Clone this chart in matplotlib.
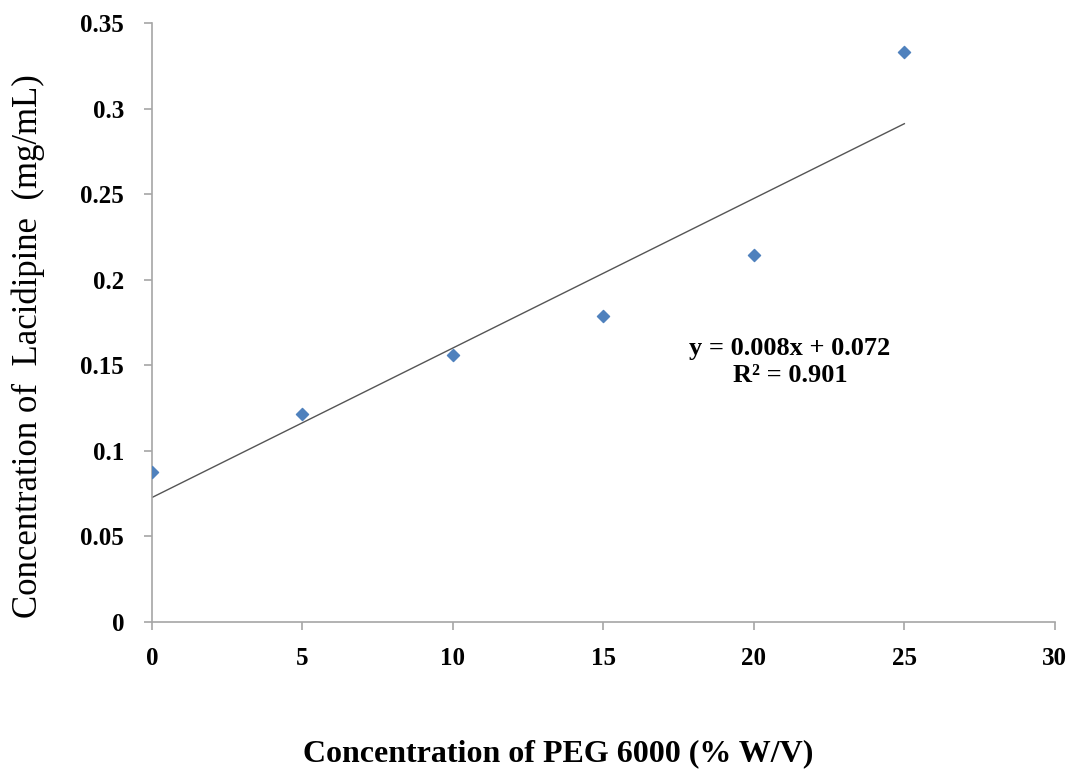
import matplotlib
matplotlib.use("Agg")
import matplotlib.pyplot as plt
import numpy as np

peg = [0, 5, 10, 15, 20, 25]
lacidipine = [0.0876, 0.1215, 0.156, 0.179, 0.2145, 0.333]
xticks = [0, 5, 10, 15, 20, 25, 30]
yticks = [0, 0.05, 0.1, 0.15, 0.2, 0.25, 0.3, 0.35]
ytick_labels = ["0", "0.05", "0.1", "0.15", "0.2", "0.25", "0.3", "0.35"]

plt.rcParams['font.family'] = ['Liberation Serif', 'DejaVu Serif']

fig = plt.figure(figsize=(10.71, 7.76), dpi=100)
ax = fig.add_axes([0.1419, 0.1985, 0.843, 0.7719])

ax.scatter(peg, lacidipine, marker='D', s=38, color='#4F81BD', zorder=3)
slope, intercept = np.polyfit(peg, lacidipine, 1)
xs = np.array([peg[0], peg[-1]])
ax.plot(xs, slope * xs + intercept, color='#555555', lw=1.0, zorder=2)

ax.set_xlim(0, 30)
ax.set_ylim(0, 0.35)
ax.set_xticks(xticks)
ax.set_xticklabels([str(t) for t in xticks], fontweight='bold', fontsize=18)
ax.set_yticks(yticks)
ax.set_yticklabels(ytick_labels, fontweight='bold', fontsize=18)

for s in ['top', 'right']:
    ax.spines[s].set_visible(False)
for s in ['left', 'bottom']:
    ax.spines[s].set_color('#A6A6A6')
    ax.spines[s].set_linewidth(1.2)
ax.tick_params(axis='both', color='#A6A6A6', length=6, width=1.2, direction='out')
ax.tick_params(axis='x', pad=12)
ax.tick_params(axis='y', pad=14)

ax.text(21.2, 0.152, "y = 0.008x + 0.072\nR² = 0.901", ha='center', va='center',
        fontsize=19, fontweight='bold', linespacing=1.2)

ax.set_xlabel("Concentration of PEG 6000 (% W/V)", fontsize=23, fontweight='bold')
ax.set_ylabel("Concentration of  Lacidipine  (mg/mL)", fontsize=25)
ax.xaxis.set_label_coords(0.4496, -0.196)
ax.yaxis.set_label_coords(-0.1185, 0.461)

fig.savefig("out.png", dpi=100)
